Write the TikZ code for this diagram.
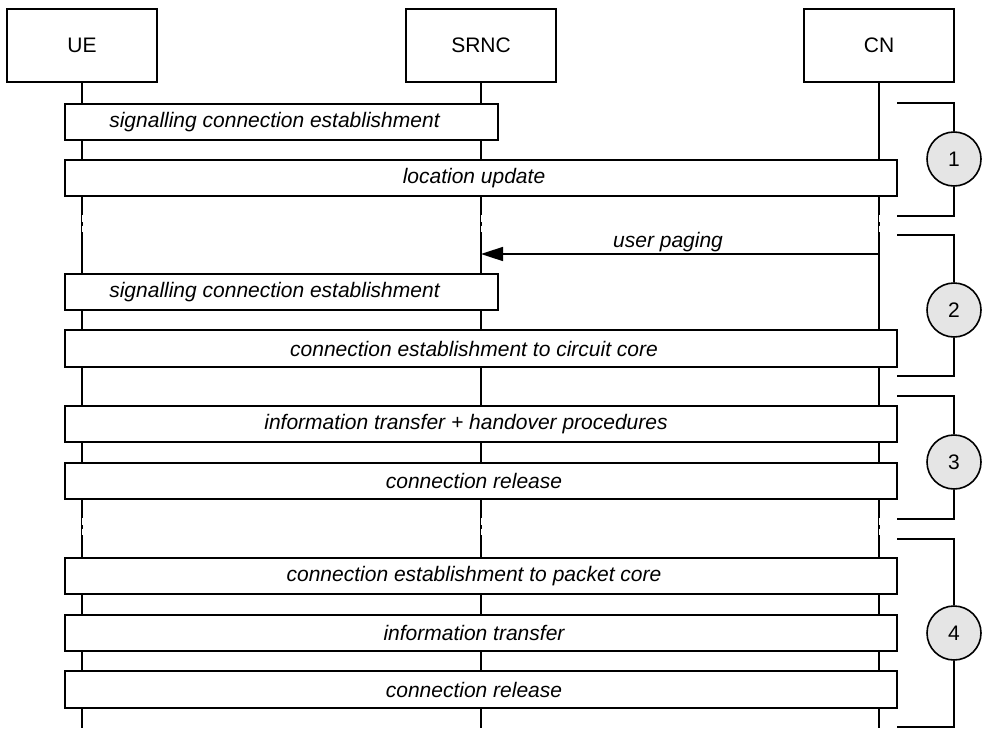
\documentclass[tikz,border=0pt]{standalone}
\usepackage{fontspec}
\setmainfont{Liberation Sans}
\usetikzlibrary{arrows.meta}

\begin{document}
\begin{tikzpicture}[x=1pt, y=-1pt,
  line/.style={line width=1.6pt},
  head/.style={draw, line width=1.6pt, fill=white, minimum width=150.5pt,
               minimum height=73.5pt, inner sep=0pt,
               font=\fontsize{21}{25}\selectfont},
  msgbox/.style={draw, line width=1.6pt, fill=white, minimum height=36.5pt,
                 inner sep=0pt, font=\fontsize{21}{25}\selectfont\itshape,
                 execute at end node={\hspace*{14pt}}},
  halfbox/.style={msgbox, minimum width=433.5pt},
  fullbox/.style={msgbox, minimum width=832pt},
  phase/.style={circle, draw, line width=1.6pt, fill=black!10,
                minimum size=54pt, inner sep=0pt,
                font=\fontsize{21}{25}\selectfont},
  msg/.style={line, -{Triangle[length=22pt, width=14pt]}},
]
\useasboundingbox (0,0) rectangle (982,728);

% entities
\node[head] (ue)   at (82,45.5)  {UE};
\node[head] (srnc) at (481,45.5) {SRNC};
\node[head] (cn)   at (879,45.5) {CN};

% lifelines
\foreach \e in {ue, srnc, cn} {
  \coordinate (\e-end) at (\e |- 0,728);
  \draw[line] (\e.south) -- (\e-end);
  % breaks between the scenarios
  \foreach \ya/\yb in {215/221.5, 225.5/232, 518/524.5, 528.5/535}
    \draw[white, line width=1pt] (\e |- 0,\ya) -- (\e |- 0,\yb);
}

% 1: location update
\node[halfbox] (sig1) at (281.5,122) {signalling connection establishment};
\node[fullbox] (loc)  at (481,178)   {location update};

% 2: paging and circuit core
\coordinate (pg-cn)   at (cn |- 0,254);
\coordinate (pg-srnc) at (srnc |- 0,254);
\draw[msg] (pg-cn) -- node[above, pos=0.53, inner sep=1pt,
  font=\fontsize{21}{25}\selectfont\itshape] (pgtext) {user paging} (pg-srnc);
\node[halfbox] (sig2) at (281.5,292)  {signalling connection establishment};
\node[fullbox] (cs)   at (481,348.5)  {connection establishment to circuit core};

% 3: transfer and release
\node[fullbox] (ho)   at (481,424)    {information transfer + handover procedures\hspace*{16pt}};
\node[fullbox] (rel1) at (481,481)    {connection release};

% 4: packet core
\node[fullbox] (ps)   at (481,576)    {connection establishment to packet core};
\node[fullbox] (info) at (481,633)    {information transfer};
\node[fullbox] (rel2) at (481,689.5)  {connection release};

% phase brackets
\foreach \n/\ya/\ym/\yb in {1/103/159/216, 2/235/310/376, 3/396/462/519, 4/539/633/727} {
  \coordinate (top\n) at (897,\ya);
  \coordinate (bot\n) at (897,\yb);
  \node[phase] (ph\n) at (954,\ym) {\n};
  \draw[line] (top\n) -| (ph\n.north);
  \draw[line] (ph\n.south) |- (bot\n);
}
\end{tikzpicture}
\end{document}
